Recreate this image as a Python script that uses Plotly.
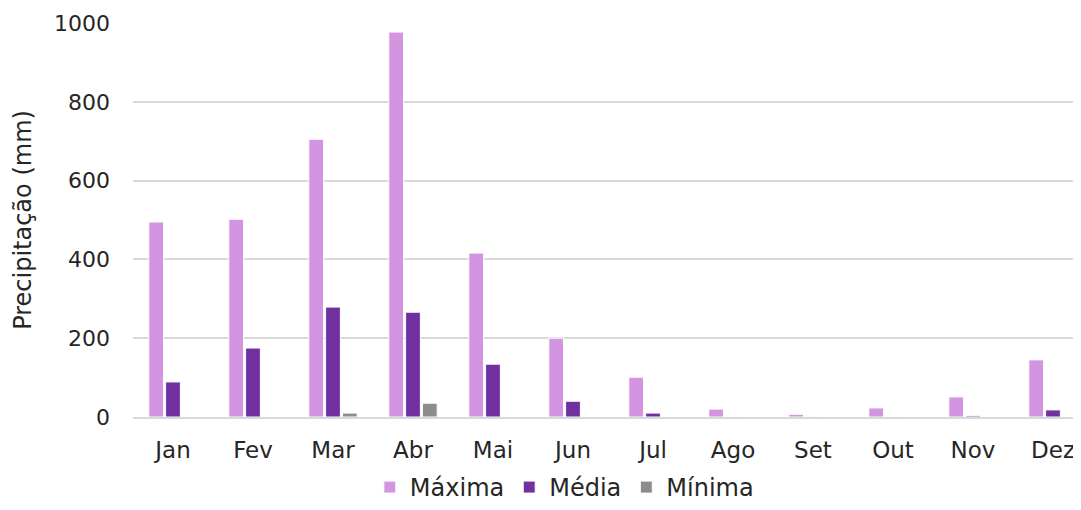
import plotly.graph_objects as go

months = ["Jan", "Fev", "Mar", "Abr", "Mai", "Jun", "Jul", "Ago", "Set", "Out", "Nov", "Dez"]
maxima = [495, 502, 705, 977, 416, 200, 101, 20, 7, 23, 51, 145]
media = [89, 175, 279, 266, 134, 40, 10, 1, 0.5, 1, 3, 18]
minima = [0, 0, 10, 35, 0, 0, 0, 0, 0, 0, 0, 0]

FONT = "DejaVu Sans"
TXT = "#262626"

fig = go.Figure()
for name, vals, color in [
    ("Máxima", maxima, "#d495e0"),
    ("Média", media, "#7030a0"),
    ("Mínima", minima, "#8c8c8c"),
]:
    fig.add_trace(
        go.Bar(
            x=months,
            y=vals,
            name=name,
            marker=dict(color=color, line=dict(color="white", width=1)),
        )
    )

# page body has an 8px margin, so the figure is sized to fit the window
fig.update_layout(
    width=1073,
    height=502,
    barmode="group",
    bargap=0.37,
    bargroupgap=0.12,
    plot_bgcolor="white",
    paper_bgcolor="white",
    font=dict(family=FONT, size=22, color=TXT),
    margin=dict(l=125, r=0, t=15, b=93),
    xaxis=dict(
        range=[-0.5, 11.35],
        automargin=False,
        showgrid=False,
        showline=True,
        linecolor="#d9d9d9",
        linewidth=2,
        ticks="",
        ticklabelstandoff=11,
        tickfont=dict(size=23, color=TXT),
    ),
    yaxis=dict(
        range=[0, 1000],
        dtick=200,
        automargin=False,
        showgrid=True,
        gridcolor="#d9d9d9",
        gridwidth=1.5,
        zeroline=False,
        ticks="",
        ticklabelstandoff=22,
        tickfont=dict(size=22, color=TXT),
        title=dict(text="Precipitação (mm)", font=dict(size=24, color=TXT)),
    ),
    legend=dict(
        orientation="h",
        x=0.455,
        xanchor="center",
        y=-0.236,
        yanchor="bottom",
        font=dict(size=24, color=TXT),
        itemwidth=30,
        traceorder="normal",
    ),
)

fig.write_html("out.html")
